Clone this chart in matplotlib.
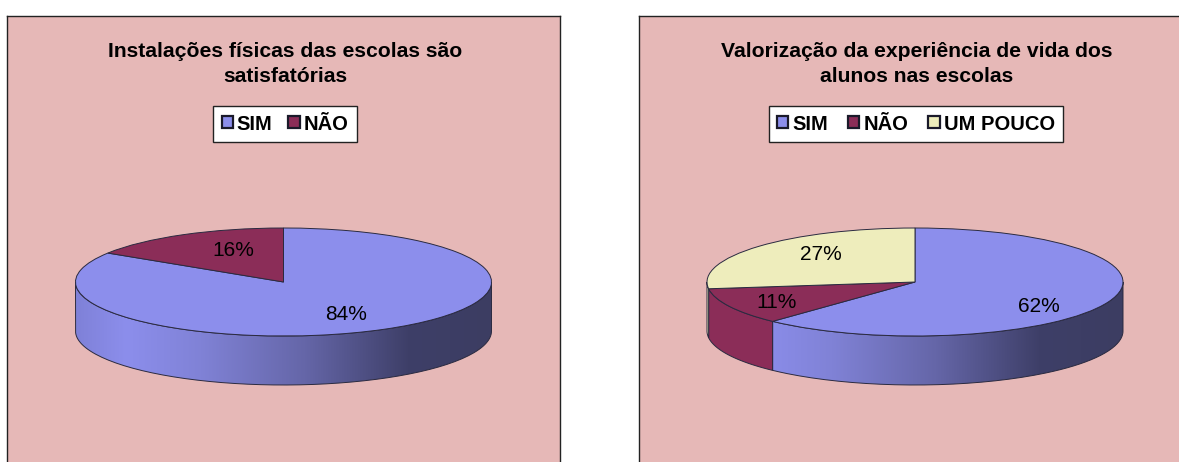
import numpy as np
import matplotlib
matplotlib.use("Agg")
import matplotlib.pyplot as plt
from matplotlib.colors import LinearSegmentedColormap
from matplotlib.patches import Patch, PathPatch
from matplotlib.path import Path

plt.rcParams["font.family"] = ["Liberation Sans", "DejaVu Sans"]

title_1 = "Instalações físicas das escolas são\nsatisfatórias"
labels_1 = ["SIM", "NÃO"]
values_1 = [84, 16]

title_2 = "Valorização da experiência de vida dos\nalunos nas escolas"
labels_2 = ["SIM", "NÃO", "UM POUCO"]
values_2 = [62, 11, 27]

W, H = 1179, 462
BLUE = "#8C8EEC"
WINE = "#8B2D58"
CREAM = "#EEEDBC"
BG = "#E6B8B7"
colors = [BLUE, WINE, CREAM]
blue_wall = LinearSegmentedColormap.from_list(
    "wall", [(0, "#7F81D8"), (0.12, BLUE), (0.3, "#8082D6"), (0.55, "#6566A8"),
             (0.8, "#3E3F68"), (1, "#3C3D62")])


def pos(px, py):
    return px / W, 1 - py / H


def wall_path(a0, a1, depth):
    # angles are clockwise from the top, in degrees
    t = np.radians(np.linspace(a0, a1, 100))
    x, y = np.sin(t), np.cos(t)
    xs = np.concatenate([x, x[::-1], x[:1]])
    ys = np.concatenate([y, y[::-1] - depth, y[:1]])
    return Path(np.column_stack([xs, ys]))


def draw_panel(left, right, cx, title, labels, values, legend_cx, spacing, pct_pos):
    rx, ry, cy, depth_px = 208, 54, 282, 49
    top = 16
    ax = plt.axes([left / W, 0, (right - left) / W, 1 - top / H])
    ax.set_facecolor(BG)
    depth = depth_px / ry
    ax.spines["bottom"].set_visible(False)
    for s in ["top", "left", "right"]:
        ax.spines[s].set_linewidth(1.0)
        ax.spines[s].set_color("#222222")

    # side wall, only the part facing the viewer
    start = 0
    for i, v in enumerate(values):
        end = start + v * 3.6
        a0, a1 = max(start, 90), min(end, 270)
        if a1 > a0:
            path = wall_path(a0, a1, depth)
            if i == 0:
                grad = np.linspace(0, 1, 256).reshape(1, -1)
                im = ax.imshow(grad, cmap=blue_wall, extent=[-1, 1, -1 - depth, 0],
                               aspect="auto", zorder=2)
                im.set_clip_path(PathPatch(path, transform=ax.transData))
                ax.add_patch(PathPatch(path, fc="none", ec="#2A2A40", lw=0.7, zorder=3))
            else:
                ax.add_patch(PathPatch(path, fc=colors[i], ec="#2A2A40", lw=0.7, zorder=3))
        start = end

    ax.pie(values, colors=colors[:len(values)], startangle=90, counterclock=False,
           radius=1, center=(0, 0), frame=True,
           wedgeprops={"edgecolor": "#2A2A40", "linewidth": 0.7, "zorder": 4})
    ax.set_aspect("auto")
    ax.set_xlim((left - cx) / rx, (right - cx) / rx)
    ax.set_ylim((cy - H) / ry, (cy - top) / ry)
    ax.set_xticks([])
    ax.set_yticks([])

    for v, (px, py) in zip(values, pct_pos):
        fx, fy = pos(px, py)
        ax.text(fx, fy, f"{v}%", transform=ax.figure.transFigure, ha="center", va="center",
                fontsize=15, color="black", zorder=6)

    fx, fy = pos(cx + 1.5, 64)
    ax.text(fx, fy, title, transform=ax.figure.transFigure, ha="center", va="center",
            fontsize=15.2, fontweight="bold", linespacing=1.35, color="black", zorder=6)

    handles = [Patch(facecolor=colors[i], edgecolor="#1A1A2A", linewidth=1.6, label=labels[i])
               for i in range(len(labels))]
    fx, fy = pos(legend_cx, 124)
    leg = ax.legend(handles=handles, loc="center", bbox_to_anchor=(fx, fy),
                    bbox_transform=ax.figure.transFigure, ncol=len(labels), frameon=True,
                    fancybox=False, framealpha=1, edgecolor="#222222", facecolor="white",
                    prop={"weight": "bold", "size": 14.5}, handlelength=0.55, handleheight=0.55,
                    handletextpad=0.2, columnspacing=spacing, borderpad=0.42, borderaxespad=0)
    leg.set_zorder(7)


fig = plt.figure(figsize=(W / 100, H / 100), dpi=100, facecolor="white")
draw_panel(7, 560, 283.5, title_1, labels_1, values_1, 285, 0.8, [(346, 315), (233, 251)])
draw_panel(639, 1190, 915, title_2, labels_2, values_2, 916, 1.0, [(1039, 306), (777, 303), (821, 254)])
fig.savefig("out.png", dpi=100)
